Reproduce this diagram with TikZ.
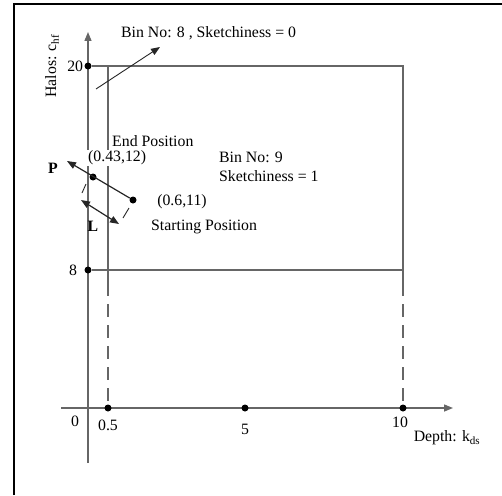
\documentclass[tikz,border=0pt]{standalone}
\usepackage{fontspec}
\setmainfont{Liberation Serif}
\usetikzlibrary{arrows.meta,positioning}

\begin{document}
\begin{tikzpicture}[x=1pt, y=-1pt,
  axis/.style={line width=1.4pt, draw=black!60},
  bin/.style={line width=1.1pt, draw=black!60},
  binx/.style={bin, dash pattern=on 13pt off 8pt},
  dot/.style={circle, fill=black, inner sep=0pt, minimum size=7pt},
  lbl/.style={font=\fontsize{15.8}{17}\selectfont, inner sep=1pt},
  tip/.style={-{Triangle[length=9pt,width=7pt]}},
  mv/.style={line width=1.2pt, black!85}
]
  \useasboundingbox (0,0) rectangle (502,495);
  % frame
  \draw[line width=2.5pt] (14,495) -- (14,4) -- (502,4);

  % axes
  \coordinate (ybot) at (88,463);
  \coordinate (ytop) at (88,32);
  \coordinate (xleft) at (61,408);
  \coordinate (xright) at (453,408);
  \draw[axis, tip] (ybot) -- (ytop);
  \draw[axis, tip] (xleft) -- (xright);

  % bin lines
  \coordinate (tr) at (403,66);
  \coordinate (mr) at (403,270);
  \coordinate (dr) at (403,283);
  \coordinate (tl) at (108,66);
  \coordinate (dl) at (108,283);
  \node[dot] (y20) at (88,66) {};
  \node[dot] (y8)  at (88,270) {};
  \node[dot] (x05) at (108,408) {};
  \node[dot] (x5)  at (245,408) {};
  \node[dot] (x10) at (403,408) {};
  \draw[bin] (y20) -- (tr) -- (dr);
  \draw[binx] (dr) -- (x10);
  \draw[bin] (y8) -- (mr);
  \draw[bin] (tl) -- (dl);
  \draw[binx] (dl) -- (x05);

  % axis labels
  \node[lbl, left=0pt of y20] {20};
  \node[lbl, left=6pt of y8] {8};
  \node[lbl] (l0)  at (75,421)  {0};
  \node[lbl] (l05) at (108,425) {0.5};
  \node[lbl] (l5)  at (245,429) {5};
  \node[lbl] (l10) at (400,422) {10};
  \node[lbl] (depth) at (447,438) {Depth: k\textsubscript{ds}};
  \node[lbl, rotate=90] (halos) at (52,66) {Halos: c\textsubscript{hf}};

  % bin texts
  \node[lbl, anchor=west] (bin8) at (120,33) {Bin No: 8 , Sketchiness = 0};
  \coordinate (b8s) at (96,89);
  \coordinate (b8e) at (160,47);
  \draw[mv, line width=0.9pt, tip] (b8s) -- (b8e);
  \node[lbl, anchor=west] (bin9) at (218,157) {Bin No: 9};
  \node[lbl, anchor=west] (sk9)  at (218,176) {Sketchiness = 1};

  % movement
  \node[lbl, anchor=west] (endpos) at (111,141) {End Position};
  \node[lbl, anchor=west, fill=white] (endxy) at (87,158) {(0.43,12)};
  \node[dot] (pend)   at (93,177) {};
  \node[dot] (pstart) at (133,200) {};
  \coordinate (ptip) at (67,161);
  \draw[mv, tip] (pstart) -- (ptip);
  \coordinate (la) at (81,200);
  \coordinate (lb) at (119,224);
  \draw[mv, {Triangle[length=9pt,width=7pt]}-{Triangle[length=9pt,width=7pt]}] (la) -- (lb);
  \coordinate (e1a) at (86,184);
  \coordinate (e1b) at (82,193);
  \coordinate (e2a) at (129,208);
  \coordinate (e2b) at (123,218);
  \draw[mv, line width=0.9pt] (e1a) -- (e1b);
  \draw[mv, line width=0.9pt] (e2a) -- (e2b);
  \node[lbl, font=\fontsize{15.8}{17}\selectfont\bfseries] (P) at (53,168) {P};
  \node[lbl, font=\fontsize{15.8}{17}\selectfont\bfseries] (L) at (93,226) {L};
  \node[lbl] (startxy) at (182,202) {(0.6,11)};
  \node[lbl, anchor=west] (startpos) at (150,227) {Starting Position};
\end{tikzpicture}
\end{document}
